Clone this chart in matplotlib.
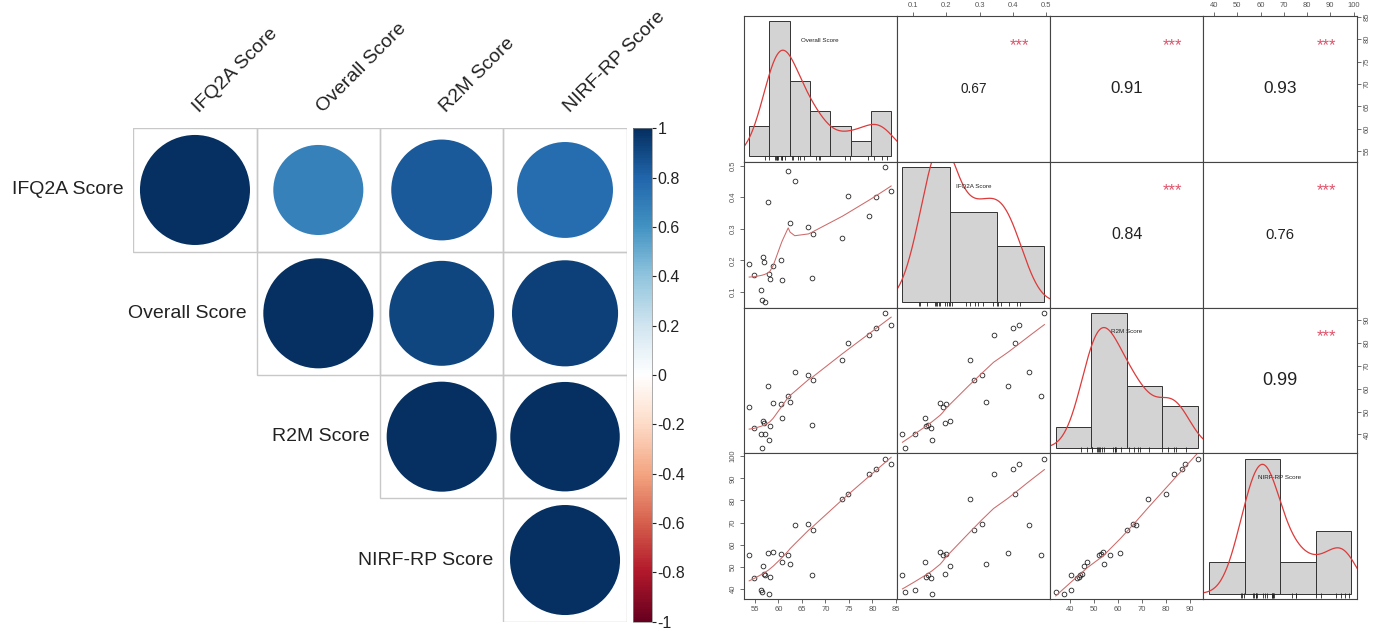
import numpy as np
import matplotlib
matplotlib.use("Agg")
import matplotlib.pyplot as plt
from matplotlib.patches import Circle, Rectangle
from matplotlib.colors import LinearSegmentedColormap, Normalize
from matplotlib.cm import ScalarMappable

plt.rcParams['font.family'] = ['Liberation Sans', 'DejaVu Sans']
plt.rcParams['axes.unicode_minus'] = False

# --- data (25 institutions) ---
overall = [53.8, 54.9, 56.4, 56.6, 56.8, 56.9, 57.1, 57.8, 58.1, 58.2, 58.9, 60.5, 60.8,
           62.1, 62.5, 63.5, 66.4, 67.4, 67.2, 73.6, 74.9, 79.3, 80.8, 82.7, 84.0]
ifq2a = [0.189, 0.153, 0.105, 0.076, 0.210, 0.195, 0.068, 0.384, 0.158, 0.140, 0.181, 0.200, 0.137,
         0.484, 0.318, 0.450, 0.307, 0.284, 0.145, 0.270, 0.405, 0.342, 0.400, 0.495, 0.418]
r2m = [52.0, 43.0, 40.3, 34.1, 45.9, 45.0, 40.3, 61.0, 37.5, 43.6, 53.6, 53.1, 47.3,
       56.7, 54.2, 67.3, 66.2, 63.9, 44.1, 72.5, 79.8, 83.5, 86.5, 93.2, 88.0]
nirf = [55.2, 45.0, 39.5, 38.5, 50.3, 46.8, 46.5, 56.1, 37.9, 45.3, 56.6, 56.0, 52.4,
        55.2, 51.4, 69.0, 69.2, 66.8, 46.3, 80.5, 82.8, 91.8, 94.2, 98.9, 96.4]

# correlation matrix as printed on the chart
corr_names = ["IFQ2A Score", "Overall Score", "R2M Score", "NIRF-RP Score"]
corr_matrix = [[1.00, 0.67, 0.84, 0.76],
               [0.67, 1.00, 0.91, 0.93],
               [0.84, 0.91, 1.00, 0.99],
               [0.76, 0.93, 0.99, 1.00]]
signif = "***"

pair_names = ["Overall Score", "IFQ2A Score", "R2M Score", "NIRF-RP Score"]
pair_ticks = [[55, 60, 65, 70, 75, 80, 85],
              [0.1, 0.2, 0.3, 0.4, 0.5],
              [40, 50, 60, 70, 80, 90],
              [40, 50, 60, 70, 80, 90, 100]]
hist_breaks = [[50, 55, 60, 65, 70, 75, 80, 85],
               [0.0, 0.2, 0.4, 0.6],
               [20, 40, 60, 80, 100],
               [20, 40, 60, 80, 100]]
cbar_ticks = [-1, -0.8, -0.6, -0.4, -0.2, 0, 0.2, 0.4, 0.6, 0.8, 1]
rdbu = ["#67001F", "#B2182B", "#D6604D", "#F4A582", "#FDDBC7", "#FFFFFF",
        "#D1E5F0", "#92C5DE", "#4393C3", "#2166AC", "#053061"]

W, H = 1384, 631


def px_box(x, y, w, h):
    return [x / W, 1 - (y + h) / H, w / W, h / H]


def lowess(x, y, f=2 / 3, iters=3):
    # Cleveland's lowess, as in R's stats::lowess
    order = np.argsort(x, kind='stable')
    x = np.asarray(x, float)[order]
    y = np.asarray(y, float)[order]
    n = len(x)
    ns = max(min(int(f * n + 1e-7), n), 2)
    rw = np.ones(n)
    fit = np.zeros(n)
    for it in range(iters + 1):
        for i in range(n):
            d = np.abs(x - x[i])
            h = np.sort(d)[ns - 1]
            if h > 0:
                u = d / h
                w = np.where(u <= 0.999, (1 - u ** 3) ** 3, 0.0)
                w[u <= 0.001] = 1.0
            else:
                w = (d == 0).astype(float)
            w = w * rw
            sw = w.sum()
            xm = (w * x).sum() / sw
            ym = (w * y).sum() / sw
            sxx = (w * (x - xm) ** 2).sum() / sw
            if np.sqrt(sxx) > 0.001 * (x[-1] - x[0]):
                b = (w * (x - xm) * (y - ym)).sum() / (sxx * sw)
                fit[i] = ym + b * (x[i] - xm)
            else:
                fit[i] = ym
        if it == iters:
            break
        res = y - fit
        cmad = 6 * np.median(np.abs(res))
        if cmad == 0:
            break
        u = np.abs(res) / cmad
        rw = np.where(u < 1, (1 - u ** 2) ** 2, 0.0)
    return x, fit


def kde(v, n=512):
    v = np.asarray(v, float)
    q75, q25 = np.percentile(v, [75, 25])
    bw = 0.9 * min(v.std(ddof=1), (q75 - q25) / 1.34) * len(v) ** -0.2
    gx = np.linspace(v.min() - 3 * bw, v.max() + 3 * bw, n)
    gy = np.exp(-0.5 * ((gx[:, None] - v[None, :]) / bw) ** 2).sum(1) / (len(v) * bw * np.sqrt(2 * np.pi))
    return gx, gy


fig = plt.figure(figsize=(W / 100, H / 100), dpi=100)

# ---------------- left: corrplot (upper triangle) ----------------
cmap = LinearSegmentedColormap.from_list("corrplot", rdbu, N=200)
norm = Normalize(-1, 1)
axc = fig.add_axes(px_box(133.3, 128.3, 493.4, 493.4))
axc.set_xlim(0, 4)
axc.set_ylim(4, 0)
axc.axis('off')
for i in range(4):
    for j in range(i, 4):
        r = corr_matrix[i][j]
        axc.add_patch(Rectangle((j, i), 1, 1, fill=False, ec='#c8c8c8', lw=1))
        axc.add_patch(Circle((j + 0.5, i + 0.5), 0.446 * np.sqrt(abs(r)),
                             fc=cmap(norm(r)), ec='none'))
    axc.text(i - 0.08, i + 0.5, corr_names[i], ha='right', va='center',
             fontsize=14, color='#222222')
    axc.text(i + 0.56, -0.1, corr_names[i], rotation=45, ha='left', va='bottom',
             rotation_mode='anchor', fontsize=14, color='#222222')

cax = fig.add_axes(px_box(633, 128.3, 19, 493.4))
cb = fig.colorbar(ScalarMappable(norm=norm, cmap=cmap), cax=cax, ticks=cbar_ticks)
cb.ax.set_yticklabels([f"{t:g}" for t in cbar_ticks])
cb.ax.tick_params(labelsize=11.5, length=3, width=0.8, pad=1, colors='#222222')
cb.outline.set_linewidth(0.5)
cb.outline.set_edgecolor('#888888')

# ---------------- right: chart.Correlation style pairs ----------------
data = {"Overall Score": np.array(overall), "IFQ2A Score": np.array(ifq2a),
        "R2M Score": np.array(r2m), "NIRF-RP Score": np.array(nirf)}
lims = {}
for name in pair_names:
    v = data[name]
    pad = 0.04 * (v.max() - v.min())
    lims[name] = (v.min() - pad, v.max() + pad)

x0, y0, pw, ph = 743.5, 16, 153.3, 145.75
for r in range(4):
    for c in range(4):
        ax = fig.add_axes(px_box(x0 + c * pw, y0 + r * ph, pw, ph))
        ax.set_xticks([])
        ax.set_yticks([])
        for s in ax.spines.values():
            s.set_color('#444444')
            s.set_linewidth(0.8)
        if r == c:
            name = pair_names[r]
            v = data[name]
            b = np.array(hist_breaks[r], float)
            idx = np.clip(np.searchsorted(b, v, side='left') - 1, 0, len(b) - 2)
            counts = np.bincount(idx, minlength=len(b) - 1)
            dens = counts / (len(v) * np.diff(b))
            ax.bar(b[:-1], dens, width=np.diff(b), align='edge', color='#d3d3d3',
                   edgecolor='#333333', linewidth=0.7)
            span = b[-1] - b[0]
            ax.set_xlim(b[0] - 0.04 * span, b[-1] + 0.04 * span)
            m = dens.max()
            ax.set_ylim(-0.04 * m, 1.04 * m)
            gx, gy = kde(v)
            ax.plot(gx, gy, color='#dd3a3a', lw=0.9)
            ax.vlines(v, 0.01, 0.04, transform=ax.get_xaxis_transform(), color='#222222', lw=0.6)
            ax.text(0.5, 0.833, name, transform=ax.transAxes, ha='center', va='center',
                    fontsize=4.5, color='#222222')
            continue

        xn, yn = pair_names[c], pair_names[r]
        ax.set_xlim(lims[xn])
        ax.set_ylim(lims[yn])
        if c < r:
            ax.plot(data[xn], data[yn], 'o', mfc='none', mec='#222222', ms=3.4, mew=0.6)
            lx, ly = lowess(data[xn], data[yn])
            ax.plot(lx, ly, color='#cc6a6a', lw=0.75)
        else:
            rv = corr_matrix[corr_names.index(xn)][corr_names.index(yn)]
            ax.text(0.5, 0.5, f"{rv:.2f}", transform=ax.transAxes, ha='center', va='center',
                    fontsize=13.1 * (abs(rv) + 0.3) / 1.3, color='#222222')
            ax.text(0.8, 0.8, signif, transform=ax.transAxes, ha='center', va='center',
                    fontsize=12, color='#DF536B')

        if (r == 3 and c % 2 == 0) or (r == 0 and c % 2 == 1):
            ax.set_xticks(pair_ticks[c])
            ax.set_xticklabels([f"{t:g}" for t in pair_ticks[c]])
            ax.xaxis.set_ticks_position('bottom' if r == 3 else 'top')
            ax.tick_params(axis='x', labelsize=5.5, length=3, width=0.6, colors='#555555', pad=2)
        if (c == 0 and r % 2 == 1) or (c == 3 and r % 2 == 0):
            ax.set_yticks(pair_ticks[r])
            ax.set_yticklabels([f"{t:g}" for t in pair_ticks[r]])
            ax.yaxis.set_ticks_position('left' if c == 0 else 'right')
            ax.tick_params(axis='y', labelsize=5.5, length=3, width=0.6, colors='#555555',
                           pad=2, labelrotation=90)
            for lab in ax.get_yticklabels():
                lab.set_va('center')

fig.savefig("out.png", dpi=100, facecolor='white')
